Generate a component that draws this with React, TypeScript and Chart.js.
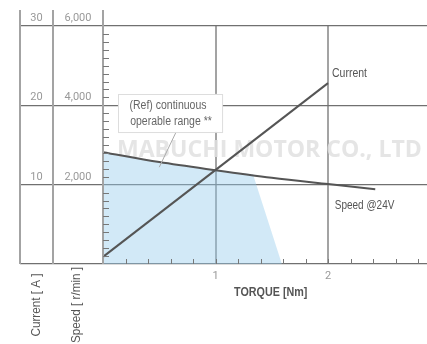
import React, { useEffect, useRef } from "react";
import { Chart, registerables } from "chart.js";

Chart.register(...registerables);

// ---- data ----
const speedTorque = [0, 0.5, 1, 1.5, 2, 2.42];
const speedValues = [2820, 2570, 2365, 2175, 2015, 1885];
const currentTorque = [0, 2];
const currentValues = [0.9, 22.8];
const rangeTorque = [0, 0.5, 1, 1.333, 1.59];
const rangeSpeed = [2820, 2570, 2365, 2260, 0];
const speedTickLabels = [2000, 4000, 6000];
const currentTickLabels = [10, 20, 30];
const torqueTickValues = [1, 2];

const SANS = '"Liberation Sans", Arial, sans-serif';
const NUM = 'Roboto, "Open Sans", sans-serif';

function narrowText(ctx: any, text: string, x: number, y: number, font: string, align: string, sx = 0.84) {
  ctx.save();
  ctx.font = font;
  ctx.textAlign = align;
  ctx.translate(x, y);
  ctx.scale(sx, 1);
  ctx.fillText(text, 0, 0);
  ctx.restore();
}

const decorPlugin = {
  id: "decor",
  afterDatasetDraw(chart: any, args: any) {
    if (args.index !== 2) return;
    const ctx = chart.ctx;
    const area = chart.chartArea;
    ctx.save();
    const text = "MABUCHI MOTOR CO., LTD";
    let size = 24;
    ctx.font = `bold ${size}px "Open Sans", sans-serif`;
    const w = ctx.measureText(text).width;
    size = (size * 305) / w;
    ctx.font = `bold ${size}px "Open Sans", sans-serif`;
    ctx.fillStyle = "rgba(224,224,224,0.85)";
    ctx.textBaseline = "alphabetic";
    ctx.textAlign = "left";
    ctx.fillText(text, area.left + 14, area.top + 131);
    ctx.restore();
  },
  afterDatasetsDraw(chart: any) {
    const ctx = chart.ctx;
    const area = chart.chartArea;
    const x = chart.scales.x;
    const y = chart.scales.y;
    const y1 = chart.scales.y1;
    ctx.save();

    // left table vertical lines + y axis line
    const colA = 20, colB = 53;
    const topY = 10;
    ctx.strokeStyle = "#a3a3a3";
    ctx.lineWidth = 2;
    [colA, colB, area.left].forEach((lx) => {
      ctx.beginPath();
      ctx.moveTo(lx, topY);
      ctx.lineTo(lx, area.bottom);
      ctx.stroke();
    });

    // minor ticks on y
    ctx.strokeStyle = "#777";
    ctx.lineWidth = 1;
    for (let v = 200; v < 6000; v += 200) {
      if (v % 2000 === 0) continue;
      const py = Math.round(y.getPixelForValue(v)) + 0.5;
      ctx.beginPath();
      ctx.moveTo(area.left, py);
      ctx.lineTo(area.left + 6, py);
      ctx.stroke();
    }
    // minor ticks on x
    for (let i = 1; i <= 14; i++) {
      const t = i * 0.2;
      const px = Math.round(x.getPixelForValue(t)) + 0.5;
      ctx.beginPath();
      ctx.moveTo(px, area.bottom);
      ctx.lineTo(px, area.bottom - 5);
      ctx.stroke();
    }

    // left table labels
    ctx.font = `11px ${NUM}`;
    ctx.fillStyle = "#999";
    ctx.textAlign = "center";
    ctx.textBaseline = "alphabetic";
    speedTickLabels.forEach((v) => {
      const py = y.getPixelForValue(v);
      ctx.fillText(v.toLocaleString("en-US"), (colB + area.left) / 2, py - 5);
    });
    currentTickLabels.forEach((v) => {
      const py = y1.getPixelForValue(v);
      ctx.fillText(String(v), (colA + colB) / 2, py - 5);
    });

    // rotated axis titles
    ctx.fillStyle = "#555";
    ctx.textBaseline = "middle";
    [["Current [ A ]", (colA + colB) / 2], ["Speed [ r/min ]", (colB + area.left) / 2 - 2]].forEach(([t, cx]: any) => {
      ctx.save();
      ctx.translate(cx, area.bottom + 41);
      ctx.rotate(-Math.PI / 2);
      narrowText(ctx, t, 0, 0, `13px ${SANS}`, "center", 0.9);
      ctx.restore();
    });

    // x axis title
    narrowText(ctx, "TORQUE [Nm]", (x.getPixelForValue(1) + x.getPixelForValue(2)) / 2 - 1, area.bottom + 29, `bold 12.5px ${SANS}`, "center", 0.86);

    // annotation box
    const bx1 = x.getPixelForValue(0.133), bx2 = x.getPixelForValue(1.058);
    const by1 = y.getPixelForValue(4288), by2 = y.getPixelForValue(3329);
    ctx.strokeStyle = "#aaa";
    ctx.lineWidth = 1;
    ctx.beginPath();
    ctx.moveTo(x.getPixelForValue(0.65), by2);
    ctx.lineTo(x.getPixelForValue(0.5), y.getPixelForValue(2440));
    ctx.stroke();
    ctx.fillStyle = "#fff";
    ctx.fillRect(bx1, by1, bx2 - bx1, by2 - by1);
    ctx.strokeStyle = "#ddd";
    ctx.strokeRect(Math.round(bx1) + 0.5, Math.round(by1) + 0.5, bx2 - bx1, by2 - by1);
    ctx.fillStyle = "#666";
    ctx.textBaseline = "middle";
    const cx = (bx1 + bx2) / 2;
    narrowText(ctx, "(Ref) continuous", cx - 2, by1 + 12, `12.5px ${SANS}`, "center");
    narrowText(ctx, "operable range **", cx + 1, by1 + 28, `12.5px ${SANS}`, "center");

    // series labels
    ctx.fillStyle = "#555";
    const cEnd = currentValues.length - 1;
    narrowText(ctx, "Current", x.getPixelForValue(currentTorque[cEnd]) + 4, y1.getPixelForValue(currentValues[cEnd]) - 10, `12.5px ${SANS}`, "left");
    narrowText(ctx, "Speed @24V", x.getPixelForValue(2.06), y.getPixelForValue(2015) + 21, `12.5px ${SANS}`, "left", 0.8);

    ctx.restore();
  },
};

export default function App() {
  const ref = useRef<HTMLCanvasElement>(null);
  useEffect(() => {
    document.body.style.margin = "0";
    const chart = new Chart(ref.current as HTMLCanvasElement, {
      type: "line",
      data: {
        datasets: [
          {
            label: "Current",
            data: currentTorque.map((t, i) => ({ x: t, y: currentValues[i] })),
            yAxisID: "y1",
            borderColor: "#555",
            borderWidth: 2,
            pointRadius: 0,
            fill: false,
            order: 1,
          },
          {
            label: "Speed @24V",
            data: speedTorque.map((t, i) => ({ x: t, y: speedValues[i] })),
            yAxisID: "y",
            borderColor: "#555",
            borderWidth: 2,
            pointRadius: 0,
            cubicInterpolationMode: "monotone",
            fill: false,
            order: 2,
          },
          {
            label: "range",
            data: rangeTorque.map((t, i) => ({ x: t, y: rangeSpeed[i] })),
            yAxisID: "y",
            borderWidth: 0,
            borderColor: "rgba(0,0,0,0)",
            backgroundColor: "rgba(148,203,235,0.42)",
            pointRadius: 0,
            fill: "origin",
            order: 3,
          },
        ],
      },
      options: {
        animation: false,
        responsive: false,
        layout: { padding: { left: 20, top: 26, right: 0, bottom: 0 } },
        plugins: { legend: { display: false }, tooltip: { enabled: false } },
        scales: {
          x: {
            type: "linear",
            min: 0,
            max: 2.88,
            position: "bottom",
            afterFit: (s: any) => {
              s.height = 80;
            },
            border: { display: false },
            grid: {
              color: (c: any) => (torqueTickValues.includes(c.tick?.value) ? "#a3a3a3" : "rgba(0,0,0,0)"),
              lineWidth: 2,
              drawTicks: false,
            },
            ticks: {
              stepSize: 1,
              includeBounds: false,
              padding: 6,
              color: "#999",
              font: { family: NUM, size: 11 },
              callback: (v: any) => (torqueTickValues.includes(v) ? String(v) : ""),
            },
          },
          y: {
            type: "linear",
            min: 0,
            max: 6000,
            position: "left",
            border: { display: false },
            grid: { color: "#707070", lineWidth: 1.3, tickLength: 83, drawTicks: true },
            ticks: { display: false, stepSize: 2000 },
          },
          y1: {
            type: "linear",
            min: 0,
            max: 30,
            display: false,
          },
        },
      },
      plugins: [decorPlugin],
    } as any);
    return () => chart.destroy();
  }, []);
  return (
    <div style={{ width: 427, height: 344 }}>
      <canvas ref={ref} width={427} height={344} style={{ width: 427, height: 344 }} />
    </div>
  );
}
